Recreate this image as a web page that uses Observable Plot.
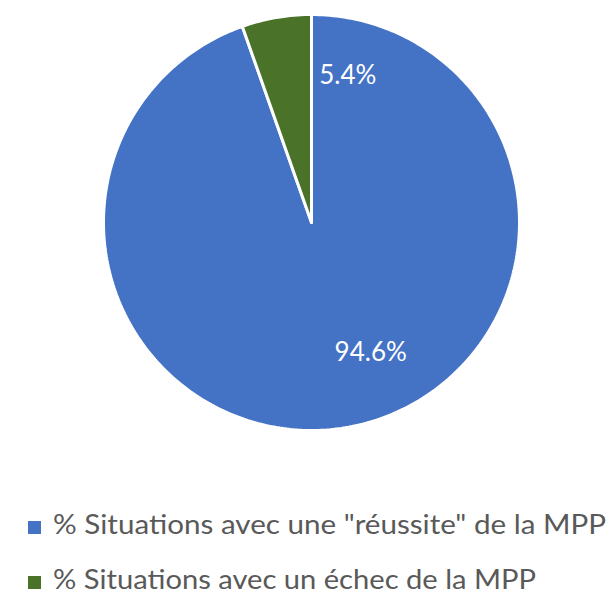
<!DOCTYPE html>
<html>
<head>
<meta charset="utf-8">
<script src="https://cdn.jsdelivr.net/npm/d3@7"></script>
<script src="https://cdn.jsdelivr.net/npm/@observablehq/plot@0.6"></script>
<style>
  html, body { margin: 0; padding: 0; background: #fff; }
  #wrap { position: relative; width: 612px; height: 596px; overflow: hidden; }
  #chart { position: absolute; left: 0; top: 0; }
  #legend { position: absolute; left: 0; top: 460px; }
</style>
</head>
<body>
<div id="wrap">
  <div id="chart"></div>
  <svg id="legend" width="612" height="136"></svg>
</div>
<script>
const categories = ['% Situations avec une "réussite" de la MPP', '% Situations avec un échec de la MPP'];
const values = [94.6, 5.4];
const labels = ["94.6%", "5.4%"];
const colors = ["#4472C4", "#4A7329"];

// slice angles (clockwise from 12 o'clock), from the data
const total = d3.sum(values);
let acc = 0;
const slices = values.map((v, i) => {
  const a0 = acc / total * 2 * Math.PI;
  acc += v;
  const a1 = acc / total * 2 * Math.PI;
  return {i, a0, a1, cat: categories[i]};
});
function arcPoints(s) {
  const n = Math.max(4, Math.ceil((s.a1 - s.a0) / (2 * Math.PI) * 360));
  const pts = [{x: 0, y: 0}];
  for (let k = 0; k <= n; k++) {
    const a = s.a0 + (s.a1 - s.a0) * k / n;
    pts.push({x: Math.sin(a), y: Math.cos(a)});
  }
  pts.push({x: 0, y: 0});
  return pts;
}
// label anchors: blue label at its mid angle, green label mirrored to the right of 12 o'clock
const labelPos = slices.map(s => {
  const mid = (s.a0 + s.a1) / 2;
  const a = s.i === 1 ? 2 * Math.PI - mid : mid;
  const r = s.i === 1 ? 0.72 : 0.69;
  return {x: r * Math.sin(a), y: r * Math.cos(a), t: labels[s.i], i: s.i};
});

const font = "Lato, 'Open Sans', sans-serif";
const plot = Plot.plot({
  width: 612,
  height: 460,
  marginLeft: 103,
  marginRight: 93,
  marginTop: 14,
  marginBottom: 30,
  x: {domain: [-1, 1], axis: null},
  y: {domain: [-1, 1], axis: null},
  marks: [
    ...slices.map(s => Plot.line(arcPoints(s), {x: "x", y: "y", fill: colors[s.i], stroke: "#fff", strokeWidth: 3, strokeLinejoin: "miter"})),
    Plot.text(labelPos.filter(d => d.i === 0), {x: "x", y: "y", text: "t", fill: "#fff", fontSize: 26, dx: 35, dy: -11, fontFamily: font}),
    Plot.text(labelPos.filter(d => d.i === 1), {x: "x", y: "y", text: "t", fill: "#fff", fontSize: 26, dx: 11, dy: 1, fontFamily: font})
  ]
});
document.getElementById("chart").appendChild(plot);

// legend (below the plot)
const lg = d3.select("#legend");
const rowBase = [74, 129];       // text baselines within the legend svg
const rowWidth = [553, 483];     // rendered text widths in the reference
const sq = 13;
const items = lg.selectAll("g").data(categories).join("g");
items.append("rect")
  .attr("x", 28).attr("y", (d, i) => rowBase[i] - 13)
  .attr("width", sq).attr("height", sq)
  .attr("fill", (d, i) => colors[i]);
items.append("text")
  .attr("x", 53).attr("y", (d, i) => rowBase[i])
  .attr("font-family", font).attr("font-size", 26)
  .attr("fill", "#595959")
  .attr("textLength", (d, i) => rowWidth[i])
  .attr("lengthAdjust", "spacingAndGlyphs")
  .text(d => d);
</script>
</body>
</html>
